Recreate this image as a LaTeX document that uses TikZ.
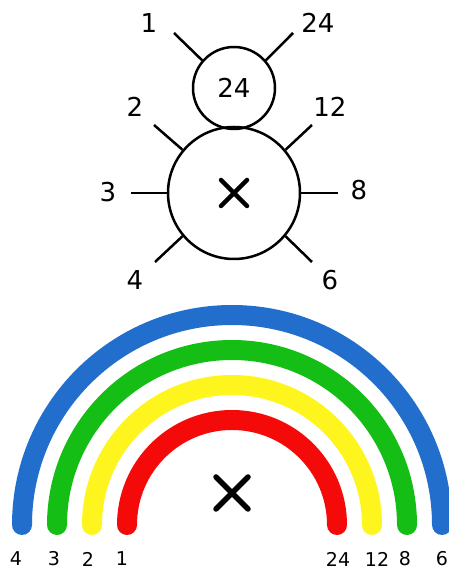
\documentclass[tikz,border=0pt]{standalone}
\usepackage{fontspec}
\setmainfont{DejaVu Sans}
\usetikzlibrary{calc}
\definecolor{cBlue}{RGB}{33,110,204}
\definecolor{cGreen}{RGB}{20,190,20}
\definecolor{cYellow}{RGB}{255,245,30}
\definecolor{cRed}{RGB}{245,10,10}
\tikzset{
	ring/.style    ={circle, draw=black, line width=2.5pt, inner sep=0pt},
	tick/.style    ={line width=2.5pt},
	toplbl/.style  ={font=\fontsize{26}{28}\selectfont, inner sep=0pt},
	botlbl/.style  ={font=\fontsize{19}{20}\selectfont, inner sep=0pt},
	band/.style    ={line width=20pt, line cap=round},
}
\newcommand{\xcross}[4]{% centre x, centre y, half size, line width
	\draw[line width=#4, line cap=round] ({#1-#3},{#2-#3}) -- ({#1+#3},{#2+#3});
	\draw[line width=#4, line cap=round] ({#1-#3},{#2+#3}) -- ({#1+#3},{#2-#3});}

\begin{document}
\begin{tikzpicture}[x=1pt, y=1pt]
	\useasboundingbox (0,0) rectangle (448,572);
	% ---------------- snowman ----------------
	\node[ring, minimum size=82pt]  (head) at (234,484) {};
	\node[ring, minimum size=132pt] (body) at (234,379) {};
	\node[toplbl] (headnum) at (head.center) {24};
	\xcross{234}{379}{13}{4.5pt}
	% tick ends
	\coordinate (eOne)    at (174,539);
	\coordinate (eTwoFour) at (293,539);
	\coordinate (eTwo)    at (154,447);
	\coordinate (eTwelve) at (312,447);
	\coordinate (eThree)  at (131,379);
	\coordinate (eEight)  at (338,379);
	\coordinate (eFour)   at (155,310);
	\coordinate (eSix)    at (312,310);
	\draw[tick] (head.139) -- (eOne);
	\draw[tick] (head.41)  -- (eTwoFour);
	\draw[tick] (body.140) -- (eTwo);
	\draw[tick] (body.40)  -- (eTwelve);
	\draw[tick] (body.180) -- (eThree);
	\draw[tick] (body.0)   -- (eEight);
	\draw[tick] (body.220) -- (eFour);
	\draw[tick] (body.320) -- (eSix);
	% labels
	\node[toplbl] (tOne)    at (149,549) {1};
	\node[toplbl] (tTwoFour) at (318,549) {24};
	\node[toplbl] (tTwo)    at (135,465) {2};
	\node[toplbl] (tTwelve) at (330,465) {12};
	\node[toplbl] (tThree)  at (108,380) {3};
	\node[toplbl] (tEight)  at (359,382) {8};
	\node[toplbl] (tFour)   at (135,292) {4};
	\node[toplbl] (tSix)    at (330,292) {6};
	% ---------------- rainbow ----------------
	\foreach \r/\c in {210/cBlue, 175/cGreen, 140/cYellow, 105/cRed}
		\draw[band, draw=\c] ({232-\r},47) arc[start angle=180, end angle=0, radius=\r];
	\xcross{232}{79}{16}{5.5pt}
	\node[botlbl] (bFour)    at (16,13)  {4};
	\node[botlbl] (bThree)   at (54,13)  {3};
	\node[botlbl] (bTwo)     at (88,13)  {2};
	\node[botlbl] (bOne)     at (122,13) {1};
	\node[botlbl] (bTwoFour) at (338,13) {24};
	\node[botlbl] (bTwelve)  at (377,13) {12};
	\node[botlbl] (bEight)   at (405,13) {8};
	\node[botlbl] (bSix)     at (442,13) {6};
\end{tikzpicture}
\end{document}
